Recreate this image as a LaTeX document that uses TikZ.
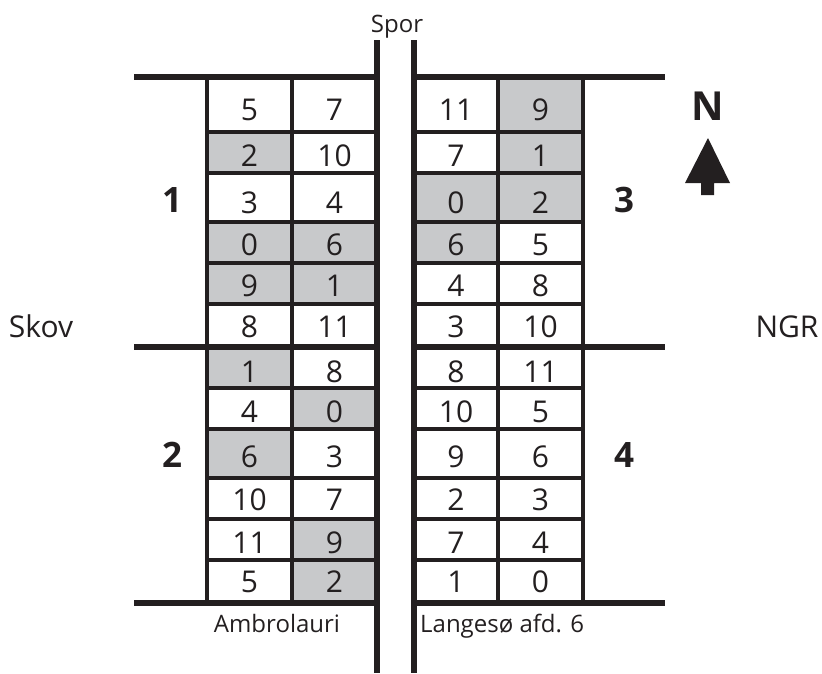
\documentclass[tikz,border=0pt]{standalone}
\usepackage{fontspec}
\setmainfont{Open Sans}
\definecolor{ink}{RGB}{35,31,32}
\definecolor{cellGray}{RGB}{200,201,203}

\begin{document}
\begin{tikzpicture}[
    x=1pt, y=-1pt,
    % Style for the numbers inside the cells
    cellText/.style={
        anchor=base,
        inner sep=0pt,
        text=ink,
        font=\fontsize{30}{36}\selectfont
    },
    % Style for the cell frames
    cellStyle/.style={
        draw=ink,
        line width=3.5pt
    },
    % Style for the block numbers (1-4)
    blockLabel/.style={
        anchor=base,
        inner sep=0pt,
        text=ink,
        font=\bfseries\fontsize{35}{42}\selectfont
    },
    % Style for the place names
    placeLabel/.style={
        anchor=base,
        inner sep=0pt,
        text=ink,
        font=\fontsize{24}{29}\selectfont
    },
    % Style for the thick border lines
    borderStyle/.style={
        draw=ink,
        line width=5.5pt
    }
]

    \useasboundingbox (0,0) rectangle (822,673);

    % --- BLOCK 1 (top left) ---
    \foreach \ya/\yb/\yt/\a/\fa/\b/\fb [count=\i] in {
        77/132/120/5/white/7/white,
        132/173/166/2/cellGray/10/white,
        173/222/213/3/white/4/white,
        222/263/255/0/cellGray/6/cellGray,
        263/304/296/9/cellGray/1/cellGray,
        304/347/337/8/white/11/white}
    {
        \filldraw[cellStyle, fill=\fa] (207,\ya) rectangle (292,\yb);
        \filldraw[cellStyle, fill=\fb] (292,\ya) rectangle (377,\yb);
        \node[cellText] (bOneA\i) at (249.5,\yt) {\a};
        \node[cellText] (bOneB\i) at (334.5,\yt) {\b};
    }

    % --- BLOCK 2 (bottom left) ---
    \foreach \ya/\yb/\yt/\a/\fa/\b/\fb [count=\i] in {
        347/388/382/1/cellGray/8/white,
        388/429/422/4/white/0/cellGray,
        429/478/467/6/cellGray/3/white,
        478/519/510/10/white/7/white,
        519/560/553/11/white/9/cellGray,
        560/603/592/5/white/2/cellGray}
    {
        \filldraw[cellStyle, fill=\fa] (207,\ya) rectangle (292,\yb);
        \filldraw[cellStyle, fill=\fb] (292,\ya) rectangle (377,\yb);
        \node[cellText] (bTwoA\i) at (249.5,\yt) {\a};
        \node[cellText] (bTwoB\i) at (334.5,\yt) {\b};
    }

    % --- BLOCK 3 (top right) ---
    \foreach \ya/\yb/\yt/\a/\fa/\b/\fb [count=\i] in {
        77/132/120/11/white/9/cellGray,
        132/173/166/7/white/1/cellGray,
        173/222/213/0/cellGray/2/cellGray,
        222/263/255/6/cellGray/5/white,
        263/304/296/4/white/8/white,
        304/347/337/3/white/10/white}
    {
        \filldraw[cellStyle, fill=\fa] (414,\ya) rectangle (498,\yb);
        \filldraw[cellStyle, fill=\fb] (498,\ya) rectangle (583,\yb);
        \node[cellText] (bThreeA\i) at (456,\yt) {\a};
        \node[cellText] (bThreeB\i) at (540.5,\yt) {\b};
    }

    % --- BLOCK 4 (bottom right) ---
    \foreach \ya/\yb/\yt/\a/\b [count=\i] in {
        347/388/382/8/11,
        388/429/422/10/5,
        429/478/467/9/6,
        478/519/510/2/3,
        519/560/553/7/4,
        560/603/592/1/0}
    {
        \filldraw[cellStyle, fill=white] (414,\ya) rectangle (498,\yb);
        \filldraw[cellStyle, fill=white] (498,\ya) rectangle (583,\yb);
        \node[cellText] (bFourA\i) at (456,\yt) {\a};
        \node[cellText] (bFourB\i) at (540.5,\yt) {\b};
    }

    % --- BORDERS AND TRACK ---
    \foreach \y in {77, 347, 603} {
        \draw[borderStyle] (134,\y) -- (377,\y);
        \draw[borderStyle] (414,\y) -- (665,\y);
    }
    \draw[borderStyle] (377,40) -- (377,673);
    \draw[borderStyle] (414,40) -- (414,673);

    % --- BLOCK NUMBERS ---
    \node[blockLabel] (lblOne) at (172,212) {1};
    \node[blockLabel] (lblTwo) at (172,467) {2};
    \node[blockLabel] (lblThree) at (624,212) {3};
    \node[blockLabel] (lblFour) at (624,467) {4};

    % --- PLACE NAMES ---
    \node[placeLabel] (spor) at (397,32) {Spor};
    \node[cellText] (skov) at (41,337) {Skov};
    \node[cellText] (ngr) at (787,337) {NGR};
    \node[placeLabel] (ambro) at (277,632) {Ambrolauri};
    \node[placeLabel, anchor=base west] (langeso) at (420,632) {Langesø afd. 6};

    % --- NORTH ARROW ---
    \node[blockLabel, font=\bfseries\fontsize{40}{48}\selectfont] (north) at (708,120) {N};
    \fill[ink] (708,138) -- (730,183) -- (714,183) -- (714,195)
        -- (701,195) -- (701,183) -- (685,183) -- cycle;

\end{tikzpicture}
\end{document}
